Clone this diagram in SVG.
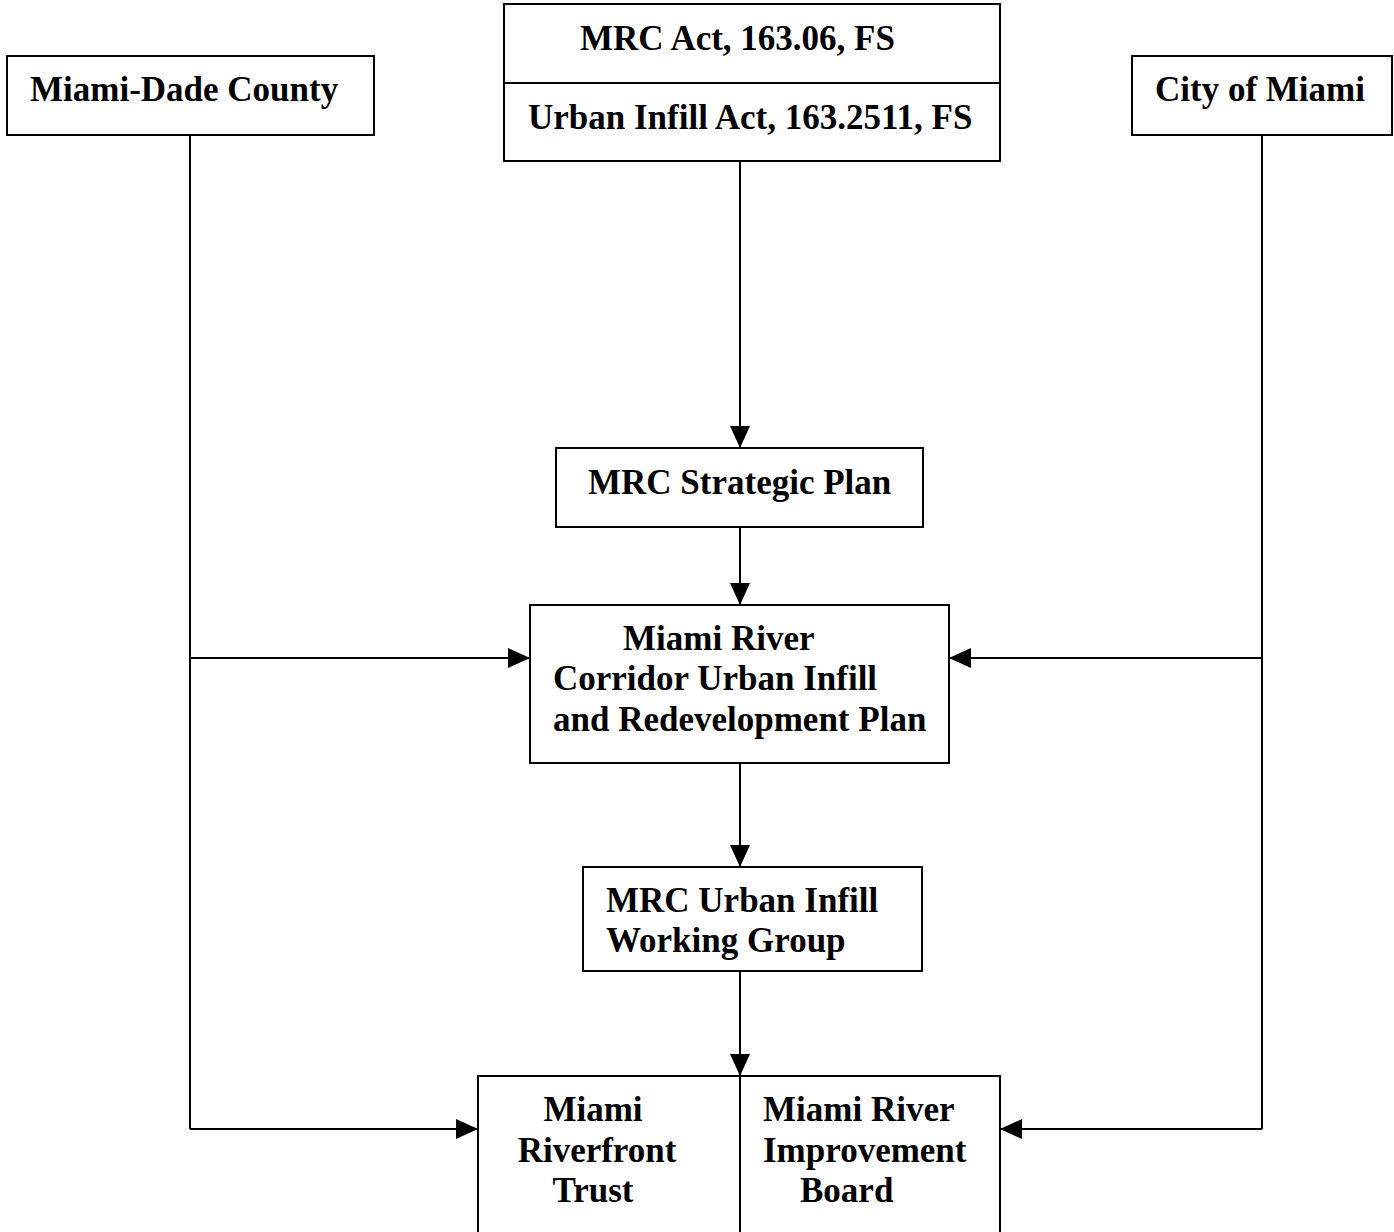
<svg xmlns="http://www.w3.org/2000/svg" width="1394" height="1232" viewBox="0 0 1394 1232">
<style>
.box{fill:#fff;stroke:#000;stroke-width:2}
.ln{fill:none;stroke:#000;stroke-width:2}
.t{font-family:"Liberation Serif","Times New Roman",serif;font-weight:bold;font-size:35px;fill:#000}
</style>
<defs>
<marker id="ah" markerUnits="userSpaceOnUse" markerWidth="22" markerHeight="20" refX="22" refY="10" orient="auto">
<path d="M0,0 L22,10 L0,20 z" fill="#000"/>
</marker>
</defs>
<rect width="1394" height="1232" fill="#fff"/>
<g id="connectors">
<line class="ln" x1="190" y1="135" x2="190" y2="1129"/>
<line class="ln" x1="1262" y1="135" x2="1262" y2="1129"/>
<line class="ln" x1="190" y1="658" x2="530" y2="658" marker-end="url(#ah)"/>
<line class="ln" x1="1262" y1="658" x2="949" y2="658" marker-end="url(#ah)"/>
<line class="ln" x1="190" y1="1129" x2="478" y2="1129" marker-end="url(#ah)"/>
<line class="ln" x1="1262" y1="1129" x2="1000" y2="1129" marker-end="url(#ah)"/>
<line class="ln" x1="740" y1="161" x2="740" y2="448" marker-end="url(#ah)"/>
<line class="ln" x1="740" y1="527" x2="740" y2="605" marker-end="url(#ah)"/>
<line class="ln" x1="740" y1="763" x2="740" y2="867" marker-end="url(#ah)"/>
<line class="ln" x1="740" y1="971" x2="740" y2="1076" marker-end="url(#ah)"/>
</g>
<g id="miami-dade">
<rect class="box" x="7" y="56" width="367" height="79"/>
<text class="t" x="30" y="101">Miami-Dade County</text>
</g>
<g id="acts">
<rect class="box" x="504" y="4" width="496" height="157"/>
<line class="ln" x1="504" y1="83" x2="1000" y2="83"/>
<text class="t" x="580" y="50">MRC Act, 163.06, FS</text>
<text class="t" x="528" y="129">Urban Infill Act, 163.2511, FS</text>
</g>
<g id="city-of-miami">
<rect class="box" x="1132" y="56" width="260" height="79"/>
<text class="t" x="1155" y="101">City of Miami</text>
</g>
<g id="strategic-plan">
<rect class="box" x="556" y="448" width="367" height="79"/>
<text class="t" x="588" y="494">MRC Strategic Plan</text>
</g>
<g id="redevelopment-plan">
<rect class="box" x="530" y="605" width="419" height="158"/>
<text class="t" x="623" y="650">Miami River</text>
<text class="t" x="553" y="690">Corridor Urban Infill</text>
<text class="t" x="553" y="731">and Redevelopment Plan</text>
</g>
<g id="working-group">
<rect class="box" x="583" y="867" width="339" height="104"/>
<text class="t" x="606" y="912">MRC Urban Infill</text>
<text class="t" x="606" y="952">Working Group</text>
</g>
<g id="bottom">
<rect class="box" x="478" y="1076" width="522" height="170"/>
<line class="ln" x1="740" y1="1076" x2="740" y2="1246"/>
<text class="t" x="593" y="1121" text-anchor="middle">Miami</text>
<text class="t" x="597" y="1162" text-anchor="middle">Riverfront</text>
<text class="t" x="593" y="1202" text-anchor="middle">Trust</text>
<text class="t" x="763" y="1121">Miami River</text>
<text class="t" x="763" y="1162">Improvement</text>
<text class="t" x="800" y="1202">Board</text>
</g>
</svg>
